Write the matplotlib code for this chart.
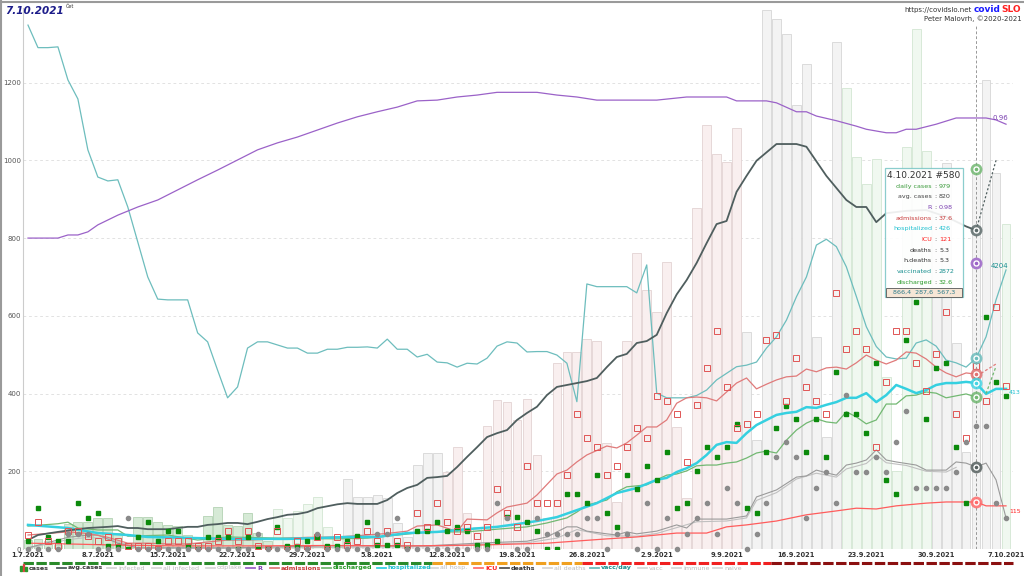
import numpy as np
import matplotlib.pyplot as plt
from matplotlib.lines import Line2D
from matplotlib.patches import Rectangle

plt.rcParams['font.family'] = ['DejaVu Sans']
plt.rcParams['lines.scale_dashes'] = False

W, H = 1024, 576
DEATH_SCALE = 39.5

week_labels = ["1.7.2021", "8.7.2021", "15.7.2021", "22.7.2021", "29.7.2021", "5.8.2021",
               "12.8.2021", "19.8.2021", "26.8.2021", "2.9.2021", "9.9.2021", "16.9.2021",
               "23.9.2021", "30.9.2021", "7.10.2021"]

# daily cases, 1.7.2021 .. 7.10.2021
cases = [23, 25, 20, 10, 65, 70, 70, 80, 80, 40,
         15, 82, 82, 70, 62, 60, 35, 15, 85, 108,
         62, 60, 92, 40, 20, 103, 80, 98, 116, 134,
         57, 30, 180, 134, 134, 139, 131, 67, 31, 216,
         247, 247, 198, 263, 93, 57, 317, 383, 379, 332,
         386, 242, 80, 478, 507, 507, 540, 535, 273, 120,
         535, 762, 666, 610, 738, 314, 130, 877, 1091, 1016,
         997, 1083, 558, 280, 1388, 1363, 1325, 1142, 1247, 546,
         288, 1305, 1186, 1008, 939, 1003, 443, 200, 1035, 1338,
         1025, 950, 993, 530, 250, 979, 1207, 967, 836]

tone_spans = [(0, 24, "g"), (25, 31, "lg"), (32, 41, "gr"), (42, 71, "p"),
              (72, 81, "gr"), (82, 90, "lg"), (91, 97, "gr"), (98, 98, "lg")]

# daily discharged (green squares), admissions (red squares), deaths (grey dots)
discharged_day = [21, 106, 31, 21, 21, 118, 80, 93, 8, 8,
                  0, 31, 69, 21, 46, 46, 8, 0, 31, 31,
                  31, 0, 31, 0, 0, 57, 8, 8, 21, 31,
                  8, 8, 21, 33, 69, 10, 10, 10, 0, 46,
                  46, 69, 46, 57, 46, 10, 10, 21, 82, 82,
                  69, 46, 0, 0, 142, 142, 118, 190, 93, 57,
                  190, 154, 214, 178, 250, 106, 118, 201, 262, 237,
                  262, 322, 106, 93, 250, 311, 368, 335, 250, 335,
                  237, 455, 347, 347, 298, 479, 178, 142, 538, 635,
                  335, 466, 479, 262, 118, 440, 597, 430, 394]
admissions_day = [36, 69, 21, 8, 46, 46, 33, 21, 31, 21,
                  8, 8, 8, 0, 21, 21, 21, 8, 8, 21,
                  46, 21, 46, 8, 0, 46, 0, 21, 0, 31,
                  0, 31, 10, 21, 46, 21, 46, 21, 10, 93,
                  57, 118, 69, 46, 57, 33, 57, 154, 93, 57,
                  214, 118, 118, 118, 190, 347, 286, 262, 190, 214,
                  262, 311, 286, 394, 381, 347, 224, 370, 466, 561,
                  417, 311, 322, 347, 538, 551, 381, 491, 417, 381,
                  347, 659, 515, 561, 515, 262, 430, 561, 561, 479,
                  407, 502, 610, 347, 286, 470, 381, 623, 419]
deaths_day = [0, 0, 0, 0, 1, 1, 1, 0, 0, 0,
              2, 0, 0, 0, 0, 0, 0, 0, 0, 0,
              0, 0, 0, 1, 0, 0, 0, 0, 0, 1,
              0, 0, 0, 0, 0, 1, 1, 2, 0, 0,
              0, 0, 0, 0, 0, 0, 0, 3, 2, 0,
              0, 2, 1, 1, 1, 1, 2, 2, 0, 1,
              1, 0, 3, 0, 2, 0, 1, 2, 3, 1,
              4, 3, 0, 1, 3, 6, 7, 6, 2, 4,
              5, 3, 10, 5, 5, 6, 5, 7, 9, 4,
              4, 4, 4, 5, 7, 8, 8, 3, 2]

# line series as (day, value)
avg_cases = [(0, 23), (1, 36), (3, 44), (5, 51), (6, 54), (8, 57), (9, 59), (10, 54), (11, 54),
             (12, 51), (14, 51), (15, 54), (16, 57), (17, 57), (18, 62), (19, 64), (20, 67),
             (21, 67), (22, 64), (23, 70), (24, 77), (25, 82), (26, 88), (27, 90), (28, 95),
             (29, 105), (30, 110), (31, 115), (32, 118), (33, 116), (35, 116), (36, 126),
             (37, 144), (38, 157), (39, 165), (40, 183), (41, 185), (42, 188), (43, 211),
             (44, 237), (45, 262), (46, 288), (47, 298), (48, 306), (49, 332), (50, 350),
             (51, 366), (52, 396), (53, 417), (54, 422), (55, 427), (56, 432), (57, 440),
             (58, 468), (59, 494), (60, 502), (61, 530), (62, 535), (63, 551), (64, 607),
             (65, 655), (66, 692), (67, 736), (68, 787), (69, 836), (70, 844), (71, 919),
             (72, 960), (73, 999), (75, 1042), (77, 1042), (78, 1035), (80, 960), (82, 898),
             (83, 880), (84, 880), (85, 841), (86, 864), (88, 870), (90, 872), (92, 855),
             (94, 830), (95, 820)]
avg_proj = [(95, 820), (97, 1000)]
vacc_day = [(0, 1348), (1, 1290), (2, 1290), (3, 1292), (4, 1207), (5, 1158), (6, 1027),
            (7, 957), (8, 947), (9, 950), (10, 880), (11, 790), (12, 700), (13, 643), (14, 641),
            (15, 641), (16, 641), (17, 556), (18, 533), (19, 460), (20, 389), (21, 417),
            (22, 517), (23, 533), (24, 533), (25, 525), (26, 517), (27, 517), (28, 504),
            (29, 504), (30, 514), (31, 514), (32, 519), (33, 519), (34, 520), (35, 517),
            (36, 540), (37, 514), (38, 514), (39, 494), (40, 501), (41, 481), (42, 479),
            (43, 468), (44, 478), (45, 476), (46, 491), (47, 522), (48, 533), (49, 530),
            (50, 507), (51, 508), (52, 508), (53, 499), (54, 478), (55, 379), (56, 682),
            (57, 675), (58, 675), (59, 675), (60, 675), (61, 659), (62, 731), (63, 401),
            (64, 389), (65, 389), (66, 389), (67, 395), (68, 409), (69, 435), (70, 452),
            (71, 469), (72, 473), (73, 481), (74, 517), (75, 546), (76, 589), (77, 649),
            (78, 700), (79, 782), (80, 797), (81, 778), (82, 726), (83, 650), (84, 572),
            (85, 521), (86, 494), (87, 489), (88, 491), (89, 530), (90, 538), (91, 522),
            (92, 486), (93, 479), (94, 468), (95, 491), (96, 546), (97, 641), (98, 718)]
r_line = [(0, 800), (3, 800), (4, 808), (5, 808), (6, 816), (7, 834), (9, 859), (11, 880),
          (13, 898), (15, 924), (17, 950), (19, 975), (21, 1001), (23, 1027), (25, 1045),
          (27, 1060), (29, 1078), (31, 1096), (33, 1112), (35, 1125), (37, 1137), (39, 1153),
          (41, 1155), (43, 1163), (45, 1168), (47, 1175), (51, 1175), (53, 1168), (55, 1163),
          (57, 1155), (63, 1155), (66, 1163), (70, 1163), (71, 1153), (74, 1153), (75, 1148),
          (77, 1125), (78, 1125), (79, 1114), (81, 1102), (83, 1088), (84, 1080), (86, 1071),
          (87, 1071), (88, 1080), (89, 1080), (91, 1093), (93, 1109), (96, 1109), (97, 1104),
          (98, 1093)]
admissions = [(0, 36), (2, 40), (4, 44), (6, 40), (8, 30), (10, 15), (12, 15), (14, 13),
              (16, 13), (18, 18), (20, 23), (22, 23), (24, 25), (26, 28), (28, 30), (31, 31),
              (34, 36), (36, 40), (38, 46), (39, 59), (41, 62), (43, 45), (44, 77), (46, 75),
              (47, 93), (48, 108), (50, 118), (51, 139), (53, 193), (54, 203), (55, 224),
              (56, 242), (58, 265), (59, 260), (60, 273), (61, 293), (62, 314), (63, 314),
              (64, 332), (65, 375), (66, 389), (67, 391), (68, 389), (69, 381), (70, 404),
              (71, 427), (72, 440), (73, 412), (74, 424), (75, 435), (76, 443), (77, 445),
              (78, 463), (79, 456), (80, 466), (81, 468), (82, 463), (83, 479), (84, 499),
              (85, 486), (86, 476), (87, 486), (88, 507), (89, 504), (90, 489), (91, 468),
              (92, 453), (93, 443), (94, 453), (95, 450)]
discharged = [(0, 59), (3, 65), (4, 69), (5, 54), (7, 49), (9, 49), (10, 33), (14, 36),
              (17, 23), (20, 31), (25, 28), (31, 26), (34, 28), (39, 41), (41, 44), (44, 44),
              (47, 51), (50, 57), (52, 67), (54, 80), (55, 95), (56, 113), (58, 126), (59, 147),
              (60, 160), (62, 165), (63, 178), (64, 190), (65, 193), (66, 201), (67, 214),
              (68, 216), (69, 216), (70, 221), (71, 224), (72, 234), (73, 247), (74, 252),
              (75, 247), (76, 280), (77, 306), (78, 324), (79, 335), (80, 327), (81, 324),
              (82, 353), (83, 340), (84, 322), (85, 332), (86, 373), (87, 373), (88, 394),
              (89, 396), (90, 404), (91, 401), (92, 389), (93, 394), (94, 399), (95, 391)]
hospitalized = [(0, 62), (4, 54), (7, 41), (10, 36), (12, 31), (17, 28), (20, 26), (26, 26),
                (29, 28), (32, 31), (35, 31), (38, 41), (41, 44), (44, 51), (47, 57), (49, 64),
                (51, 72), (53, 82), (55, 100), (57, 118), (59, 144), (61, 157), (63, 178),
                (64, 183), (65, 198), (66, 208), (67, 221), (68, 242), (69, 268), (70, 275),
                (71, 273), (72, 298), (73, 319), (74, 332), (75, 345), (76, 350), (77, 353),
                (78, 365), (79, 363), (80, 371), (81, 378), (82, 389), (83, 389), (84, 401),
                (85, 378), (86, 396), (87, 422), (88, 412), (89, 401), (90, 409), (91, 422),
                (92, 427), (93, 427), (94, 430), (95, 427), (96, 399), (97, 412), (98, 412)]
icu = [(0, 15), (4, 13), (9, 10), (15, 8), (22, 8), (30, 9), (38, 8), (45, 10), (52, 15),
       (58, 26), (61, 31), (65, 41), (68, 41), (70, 57), (72, 62), (75, 72), (78, 88), (81, 98),
       (83, 105), (85, 103), (87, 111), (90, 118), (92, 121), (95, 121), (96, 111), (98, 111)]
deaths = [(0, 3), (4, 30), (6, 36), (7, 36), (9, 15), (11, 3), (20, 3), (30, 8), (40, 8),
          (45, 15), (50, 20), (52, 31), (54, 57), (55, 57), (56, 46), (58, 39), (59, 36),
          (60, 44), (61, 39), (63, 46), (65, 62), (66, 54), (67, 77), (70, 77), (72, 85),
          (73, 134), (75, 152), (77, 185), (78, 188), (79, 203), (80, 196), (81, 190),
          (82, 216), (83, 221), (84, 229), (85, 255), (86, 229), (87, 224), (89, 216),
          (90, 203), (92, 203), (93, 224), (94, 221), (95, 211), (96, 221), (97, 178), (98, 80)]
h_deaths = [(0, 2), (4, 24), (6, 30), (8, 26), (11, 3), (20, 2), (40, 6), (50, 16),
            (53, 28), (55, 50), (58, 34), (61, 33), (63, 40), (65, 55), (67, 70), (70, 72),
            (72, 80), (73, 125), (75, 145), (77, 180), (79, 195), (81, 185), (82, 206),
            (84, 220), (85, 242), (86, 222), (88, 215), (90, 200), (92, 198), (93, 210)]
admissions_proj = [(95.5, 452), (97, 476)]
discharged_proj = [(96, 400), (97, 470)]

# highlighted day 4.10.2021
sel_day = 95
sel_vals = [979, 820, 736, 491, 450, 427, 391, 211, 121]
sel_cols = ["#72b872", "#5d6b6b", "#9b62c8", "#6dbdbd", "#e07070", "#45d4e4", "#72b872",
            "#56605f", "#ff6a6a"]

tip_rows = [("daily cases", "979", "#3a9a3a"), ("avg. cases", "820", "#444444"),
            ("R", "0.98", "#7a3fb0"), ("admissions", "37.6", "#c83a3a"),
            ("hospitalized", "426", "#20c0d0"), ("ICU", "121", "#ff2020"),
            ("deaths", "5.3", "#333333"), ("h.deaths", "5.3", "#333333"),
            ("vaccinated", "2872", "#1a9090"), ("discharged", "32.6", "#2a9a2a")]

level_spans = [(-0.5, 40.5, "#2a8a2a"), (40.5, 55.5, "#f0a020"), (55.5, 74.5, "#f02020"),
               (74.5, 98.7, "#8b1010")]

legend_items = [("cases", None, "#333333"), ("avg.cases", "#4f5e5e", "#333333"),
                ("infected", "#d4d4d4", "#bbbbbb"), ("all infected", "#d8d8d8", "#bbbbbb"),
                ("odplake", "#d8d8d8", "#bbbbbb"), ("R", "#9b62c8", "#7a3fb0"),
                ("admissions", "#e07a7a", "#c83a3a"), ("discharged", "#72b872", "#2a9a2a"),
                ("hospitalized", "#35d0e0", "#20c0d0"), ("all hosp.", "#d8d8d8", "#bbbbbb"),
                ("ICU", "#ff7070", "#ff2020"), ("deaths", "#555555", "#333333"),
                ("all deaths", "#d8d8d8", "#bbbbbb"), ("vacc/day", "#6dbdbd", "#1a9090"),
                ("vacc", "#d8d8d8", "#bbbbbb"), ("immune", "#d8d8d8", "#bbbbbb"),
                ("naive", "#d8d8d8", "#bbbbbb")]
legend_x = [20, 57, 107, 152, 206, 246, 270, 322, 377, 429, 474, 500, 543, 590, 638, 672, 713]


def P(x, y):
    return x / W, 1 - y / H


tones = {"g": ("#d6ead6", "#b4d2b4"), "lg": ("#f0f8f0", "#d3e6d3"),
         "gr": ("#f3f3f3", "#d6d6d6"), "p": ("#f9efef", "#e3d3d3")}

days = np.arange(len(cases))
fills, edges = [], []
for d in days:
    for a, b, t in tone_spans:
        if a <= d <= b:
            fills.append(tones[t][0])
            edges.append(tones[t][1])

fig = plt.figure(figsize=(W / 100, H / 100), dpi=100)
ax = fig.add_axes([23 / W, 1 - 549 / H, (1013 - 23) / W, (549 - 8) / H])
ax.set_xlim(-0.5, 98.7)
ax.set_ylim(0, 1392)

ax.bar(days, cases, width=0.88, color=fills, edgecolor=edges, linewidth=0.6, zorder=1)


def line(pts, **kw):
    x, y = zip(*pts)
    ax.plot(x, y, **kw)


line(vacc_day, color="#6dbdbd", lw=0.9, zorder=3)
line(r_line, color="#9b62c8", lw=0.9, zorder=3)
line(h_deaths, color="#c0c0c0", lw=0.8, zorder=3)
line(deaths, color="#9a9a9a", lw=0.8, zorder=3)
line(icu, color="#ff5c5c", lw=0.9, zorder=3)
line(admissions, color="#e07a7a", lw=0.9, zorder=3)
line(discharged, color="#72b872", lw=0.9, zorder=3)
line(hospitalized, color="#35d0e0", lw=1.8, zorder=3)
line(avg_cases, color="#4f5e5e", lw=1.3, zorder=3)
line(avg_proj, color="#4f5e5e", lw=0.9, ls=(0, (1.5, 1.5)), zorder=3)
line(admissions_proj, color="#e07a7a", lw=0.9, ls=(0, (2, 1.5)), zorder=3)
line(discharged_proj, color="#72b872", lw=0.9, ls=(0, (2, 1.5)), zorder=3)

ax.plot(days, discharged_day, "s", ms=3.2, color="#0b8a0b", mec="#0b8a0b", zorder=4)
ax.plot(days, admissions_day, "s", ms=3.8, mfc="none", mec="#e05555", mew=0.7, zorder=4)
ax.plot(days, np.array(deaths_day) * DEATH_SCALE, "o", ms=3.0, color="#8a8a8a",
        zorder=4, clip_on=False)

# end labels
ax.text(96.6, 1108, "0.96", color="#7a3fb0", fontsize=5, va="center", zorder=5)
ax.text(96.5, 728, "4204", color="#1a9090", fontsize=5, va="center", zorder=5)
ax.text(98.3, 402, "413", color="#20c0d0", fontsize=4.5, va="center", zorder=5)
ax.text(98.3, 96, "115", color="#ff2020", fontsize=4.5, va="center", zorder=5)

# selected day marker
ax.plot([sel_day, sel_day], [0, 1348], color="#888888", lw=0.6, ls=(0, (2, 1.5)), zorder=4)
for v, c in zip(sel_vals, sel_cols):
    ax.plot(sel_day, v, "o", ms=8.5, color=c, alpha=0.85, mew=0, zorder=6)
    ax.plot(sel_day, v, "o", ms=3.6, mfc=c, mec="white", mew=1.0, zorder=7)

# axes styling
for s in ["top", "right", "bottom"]:
    ax.spines[s].set_visible(False)
ax.spines["left"].set_color("#cccccc")
ax.spines["left"].set_linewidth(0.8)
ax.set_yticks(range(0, 1400, 200))
ax.set_yticklabels([str(v) for v in range(0, 1400, 200)], fontsize=5, color="#555555")
ax.set_xticks(range(0, 99, 7))
ax.set_xticklabels(week_labels, fontsize=4.8, color="#333333", fontweight="bold")
ax.tick_params(length=0, pad=1.5)
ax.tick_params(axis="x", pad=2)
ax.grid(axis="y", color="#dddddd", lw=0.6, ls=(0, (2, 2)), zorder=0)
ax.set_axisbelow(True)

# alert level band under the axis
bt = ax.get_xaxis_transform()
for a, b, c in level_spans:
    ax.plot([a, b], [-0.026, -0.026], color=c, lw=2.2, ls=(0, (7.5, 1.8)), transform=bt,
            clip_on=False, solid_capstyle="butt", dash_capstyle="butt")

# tooltip
fig.patches.append(Rectangle(P(885, 297), 78 / W, 129 / H, transform=fig.transFigure,
                             facecolor="white", edgecolor="#7ec8c8", lw=0.9, alpha=0.9,
                             zorder=8))
fig.patches.append(Rectangle(P(886, 297), 76 / W, 9 / H, transform=fig.transFigure,
                             facecolor="#f6e6d6", edgecolor="#555555", lw=0.6, zorder=9))
fig.text(*P(924, 176), "4.10.2021 #580", fontsize=6.5, color="#333333", ha="center",
         va="center", zorder=10)
for i, (lab, val, c) in enumerate(tip_rows):
    y = 186 + i * 10.7
    fig.text(*P(932, y), lab, fontsize=4.6, color=c, ha="right", va="center", zorder=10)
    fig.text(*P(935.5, y), ":", fontsize=4.6, color="#444444", ha="center", va="center",
             zorder=10)
    fig.text(*P(939, y), val, fontsize=4.6, color=c, ha="left", va="center", zorder=10)
fig.text(*P(924, 292.5), "866,4  287,6  567,3", fontsize=4.6, color="#2a7a8a",
         ha="center", va="center", zorder=10)

# header texts
fig.text(*P(5, 11), "7.10.2021", fontsize=7.5, fontweight="heavy", style="italic",
         color="#1c1c8a", va="center")
fig.text(*P(66, 6), "Čet", fontsize=3.5, color="#333333", va="center")
fig.text(*P(972, 10), "https://covidslo.net", fontsize=5, color="#333333", ha="right",
         va="center")
fig.text(*P(1001, 10), "covid", fontsize=6.5, fontweight="bold", color="#1a1aff",
         ha="right", va="center")
fig.text(*P(1001.5, 10), "SLO", fontsize=6.5, fontweight="bold", color="#ff2020",
         ha="left", va="center")
fig.text(*P(1022, 19), "Peter Malovrh, ©2020-2021", fontsize=5, color="#333333",
         ha="right", va="center")

# legend
ly = 568
for (lab, c, tc), x in zip(legend_items, legend_x):
    if c is None:
        for k, (h, bc) in enumerate([(5, "#2a9a2a"), (7, "#e04040"), (4, "#2a9a2a")]):
            fig.patches.append(Rectangle(P(x + k * 2.5, ly + 3), 1.8 / W, h / H,
                                         transform=fig.transFigure, color=bc))
        tx = x + 9
    else:
        fig.add_artist(Line2D([x / W, (x + 9) / W], [1 - ly / H, 1 - ly / H], color=c,
                              lw=1.3, transform=fig.transFigure))
        tx = x + 11
    fig.text(*P(tx, ly), lab, fontsize=4.6, color=tc, va="center",
             fontweight="bold" if tc != "#bbbbbb" else "normal")

# outer frame
fig.add_artist(Line2D([0, 1], [1 - 1.5 / H, 1 - 1.5 / H], color="#9a9a9a", lw=1.5,
                      transform=fig.transFigure))
fig.add_artist(Line2D([1.2 / W, 1.2 / W], [0, 1], color="#9a9a9a", lw=1.5,
                      transform=fig.transFigure))

fig.savefig("out.png", dpi=100)
